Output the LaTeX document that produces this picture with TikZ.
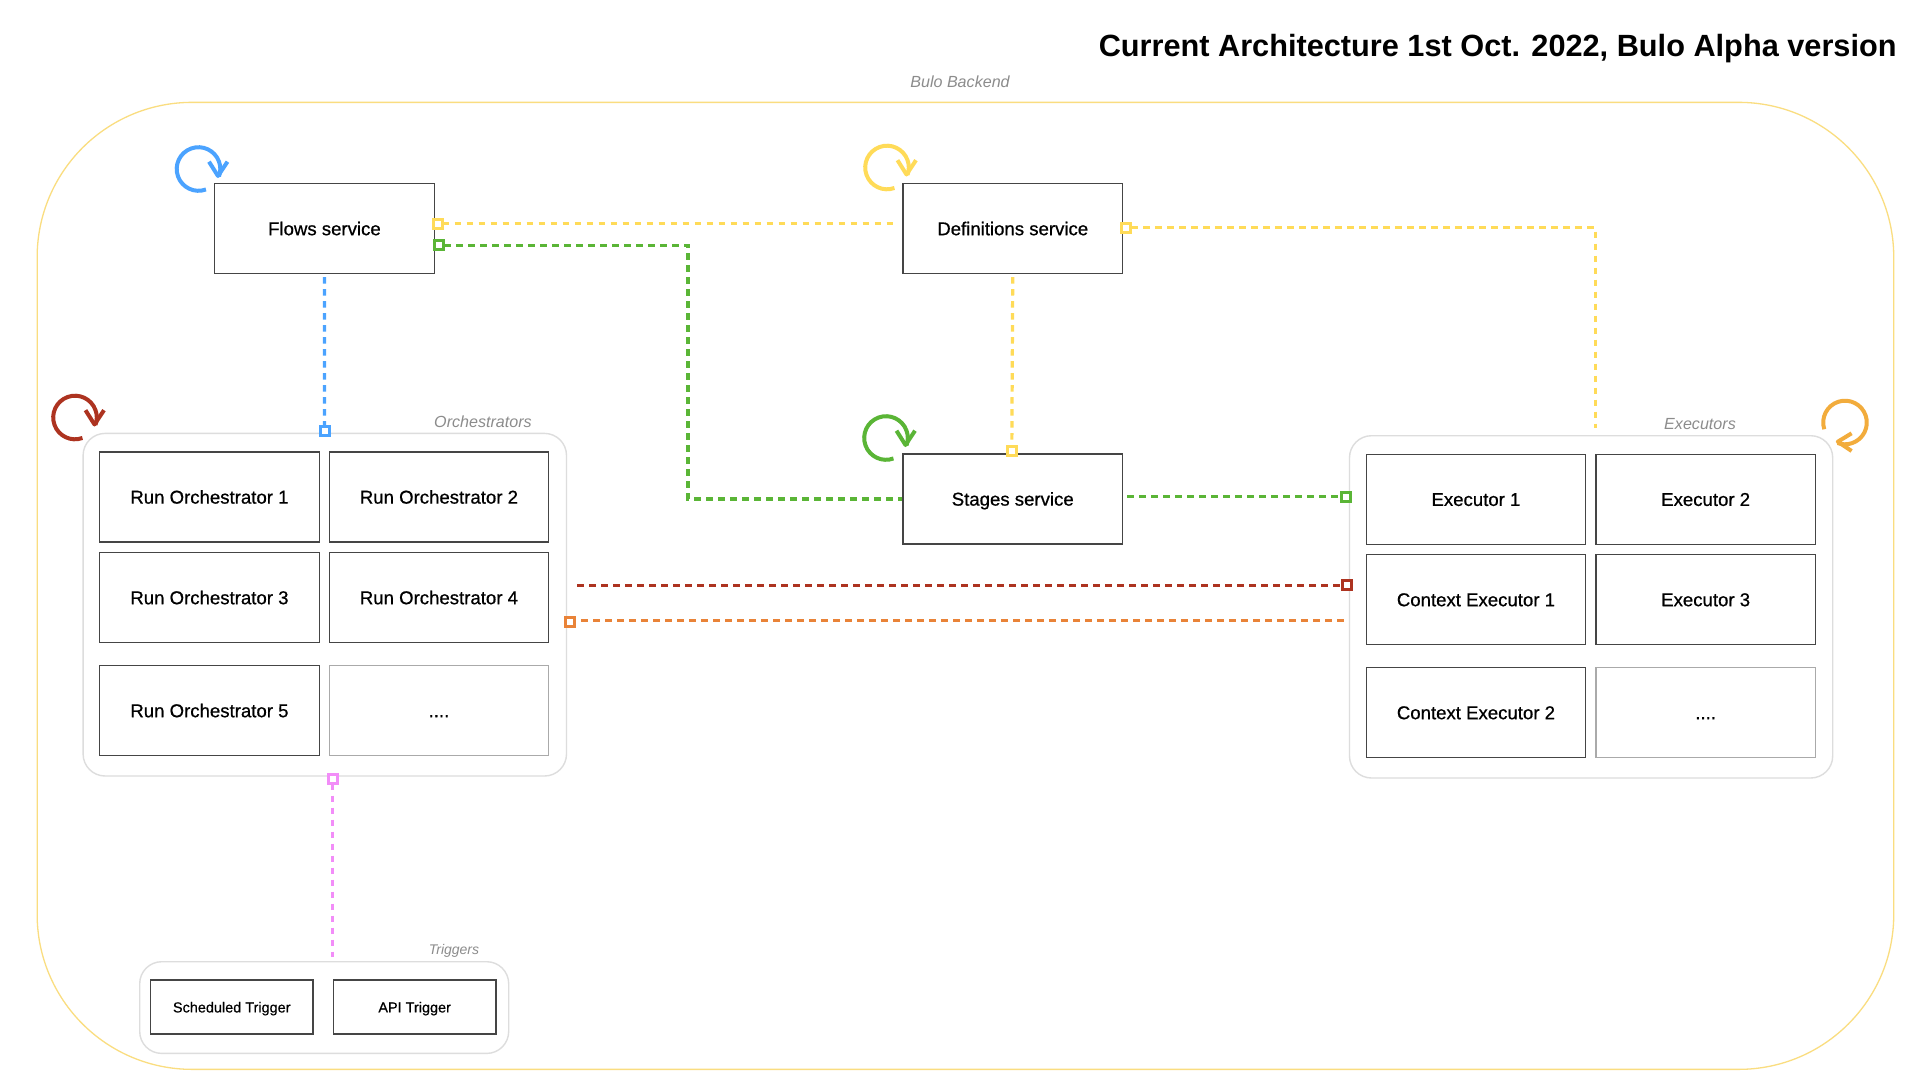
\documentclass[tikz,border=0pt]{standalone}
\usepackage{fontspec}
\setmainfont{Liberation Sans}
\newfontfamily\medfont[FakeBold=0.7]{Liberation Sans}
\newfontfamily\medsmall[FakeBold=0.5]{Liberation Sans}
\definecolor{cyel}{HTML}{FFDB58}
\definecolor{cgrn}{HTML}{5AB536}
\definecolor{cblu}{HTML}{4BA3FF}
\definecolor{cred}{HTML}{AD3320}
\definecolor{cora}{HTML}{E98338}
\definecolor{cpnk}{HTML}{F28DF8}
\definecolor{clor}{HTML}{F2AC3C}
\definecolor{cout}{HTML}{FADD80}
\definecolor{ccon}{HTML}{DDDDDD}
\definecolor{cbox}{HTML}{454545}
\definecolor{cdot}{HTML}{AAAAAA}
\definecolor{clab}{HTML}{8C8C8C}
\tikzset{
  svc/.style={draw=cbox,line width=1.2pt,fill=white,anchor=north west,minimum width=219.5pt,minimum height=90pt,inner sep=0pt,text height=16pt,text depth=2.6pt,xshift=-0.4pt,yshift=0.4pt,font=\fontsize{18.6}{20}\medfont},
  dotsbox/.style={svc,draw=cdot},
  trigbox/.style={svc,minimum width=162.5pt,minimum height=54pt,text height=13pt,text depth=2pt,font=\fontsize{14.45}{16}\medsmall},
  group/.style={draw=ccon,line width=1.4pt,rounded corners=22pt,anchor=north west,inner sep=0pt,xshift=-0.6pt},
  grouplabel/.style={text=clab,font=\fontsize{16.1}{17}\selectfont\itshape,inner sep=0pt},
  link/.style={line width=3.2pt,dash pattern=on 6.5pt off 5.5pt},
  port/.style={draw,line width=3pt,fill=white,minimum size=9pt,inner sep=0pt,shape=rectangle},
  spin/.style={line width=4pt,line join=round,fill=none},
}
\newcommand{\spinloop}[3]{%
  \begin{scope}[shift={(#2,-#3)}]
    \draw[spin,#1] (-70:21.8pt) arc (-70:-380:21.8pt);
    \draw[spin,#1] (10.5,7.3) -- (19.5,-7) -- (29,7.3);
  \end{scope}}
\begin{document}
\begin{tikzpicture}[x=1pt,y=1pt]
\useasboundingbox (0,0) rectangle (1920,-1080);
\fill[white] (0,0) rectangle (1920,-1080);

% outer frame
\node[draw=cout,line width=1.3pt,rounded corners=155pt,anchor=north west,inner sep=0pt,minimum width=1856.6pt,minimum height=967pt] (backend) at (36.5,-101.7) {};
\node[grouplabel] (backendlabel) at (960,-81.7) {Bulo Backend};
\node[anchor=base east,inner sep=0pt,font=\fontsize{30.7}{36}\selectfont\bfseries] (title) at (1896.8,-56) {Current Architecture 1st Oct. 2022, Bulo Alpha version};

% groups
\node[group,minimum width=483.4pt,minimum height=342.6pt] (orch) at (83,-432.7) {};
\node[group,minimum width=483.2pt,minimum height=342.3pt] (execs) at (1349.4,-435) {};
\node[group,minimum width=369pt,minimum height=91.7pt] (trig) at (139.6,-961) {};
\node[grouplabel] (orchlabel) at (483,-422) {Orchestrators};
\node[grouplabel] (execlabel) at (1700,-424.5) {Executors};
\node[grouplabel,font=\fontsize{14}{16}\selectfont\itshape] (triglabel) at (454,-950.5) {Triggers};

% services
\node[svc] (flows) at (214.5,-183.3) {Flows service};
\node[svc] (defs) at (902.8,-183.3) {Definitions service};
\node[svc] (stages) at (902.8,-453.7) {Stages service};

% orchestrators
\node[svc] (ro1) at (99.5,-451.7) {Run Orchestrator 1};
\node[svc] (ro2) at (329,-451.7) {Run Orchestrator 2};
\node[svc] (ro3) at (99.5,-552.3) {Run Orchestrator 3};
\node[svc] (ro4) at (329,-552.3) {Run Orchestrator 4};
\node[svc] (ro5) at (99.5,-665.3) {Run Orchestrator 5};
\node[dotsbox] (rodots) at (329,-665.3) {....};

% executors
\node[svc] (ex1) at (1366,-454) {Executor 1};
\node[svc] (ex2) at (1595.7,-454) {Executor 2};
\node[svc] (ce1) at (1366,-554.3) {Context Executor 1};
\node[svc] (ex3) at (1595.7,-554.3) {Executor 3};
\node[svc] (ce2) at (1366,-667.3) {Context Executor 2};
\node[dotsbox] (exdots) at (1595.7,-667.3) {....};

% triggers
\node[trigbox] (sched) at (150.3,-979.7) {Scheduled Trigger};
\node[trigbox] (api) at (333.2,-979.7) {API Trigger};

% free ends
\coordinate (yellowend) at (1595.5,-428.3);
\coordinate (greenmid) at (688,-370);
\coordinate (redstart) at (577,-585.3);
\coordinate (orangeend) at (1348,-620.3);

% ports
\node[port,draw=cyel] (pflowsy) at (437.5,-223.7) {};
\node[port,draw=cgrn] (pflowsg) at (439,-245.3) {};
\node[port,draw=cblu] (porch) at (324.5,-430.7) {};
\node[port,draw=cyel] (pdefs) at (1126.4,-227.7) {};
\node[port,draw=cyel] (pstages) at (1011.8,-451.3) {};
\node[port,draw=cgrn] (pex) at (1345.9,-496.7) {};
\node[port,draw=cred] (pce) at (1347,-585.3) {};
\node[port,draw=cora] (porchr) at (570,-621.5) {};
\node[port,draw=cpnk] (porchb) at (332.5,-778.7) {};

% connectors
\draw[link,cyel,shorten >=8pt,shorten <=5pt] (pflowsy.center) -- (defs.west |- pflowsy.center);
\draw[link,cgrn,shorten <=5pt] (pflowsg.center) -| (greenmid) |- (stages.west);
\draw[link,cblu,shorten <=3pt,shorten >=5pt] (flows.south) -- (porch.center);
\draw[link,cyel,shorten <=5pt] (pdefs.center) -| (yellowend);
\draw[link,cyel,shorten <=3pt,shorten >=5pt] (defs.south) -- (pstages.center);
\draw[link,cgrn,shorten <=4pt,shorten >=5pt] (stages.east |- pex.center) -- (pex.center);
\draw[link,cred,shorten >=5pt] (redstart) -- (pce.center);
\draw[link,cora,shorten <=5pt] (porchr.east |- orangeend) -- (orangeend);
\draw[link,cpnk,shorten <=5pt,shorten >=4pt] (porchb.center) -- (trig.north -| porchb.center);

% redraw ports above the links
\node[port,draw=cyel] at (pflowsy.center) {};
\node[port,draw=cgrn] at (pflowsg.center) {};
\node[port,draw=cblu] at (porch.center) {};
\node[port,draw=cyel] at (pdefs.center) {};
\node[port,draw=cyel] at (pstages.center) {};
\node[port,draw=cgrn] at (pex.center) {};
\node[port,draw=cred] at (pce.center) {};
\node[port,draw=cora] at (porchr.center) {};
\node[port,draw=cpnk] at (porchb.center) {};

% spin arrows
\spinloop{cblu}{198.5}{169}
\spinloop{cyel}{887}{167.5}
\spinloop{cgrn}{886}{438}
\spinloop{cred}{75}{417.5}
\begin{scope}[shift={(1845,-422.5)}]
  \draw[spin,clor] (198:21.8pt) arc (198:-110:21.8pt);
  \draw[spin,clor] (6.6,-10.8) -- (-7.2,-19.2) -- (6.6,-28.5);
\end{scope}
\end{tikzpicture}
\end{document}
